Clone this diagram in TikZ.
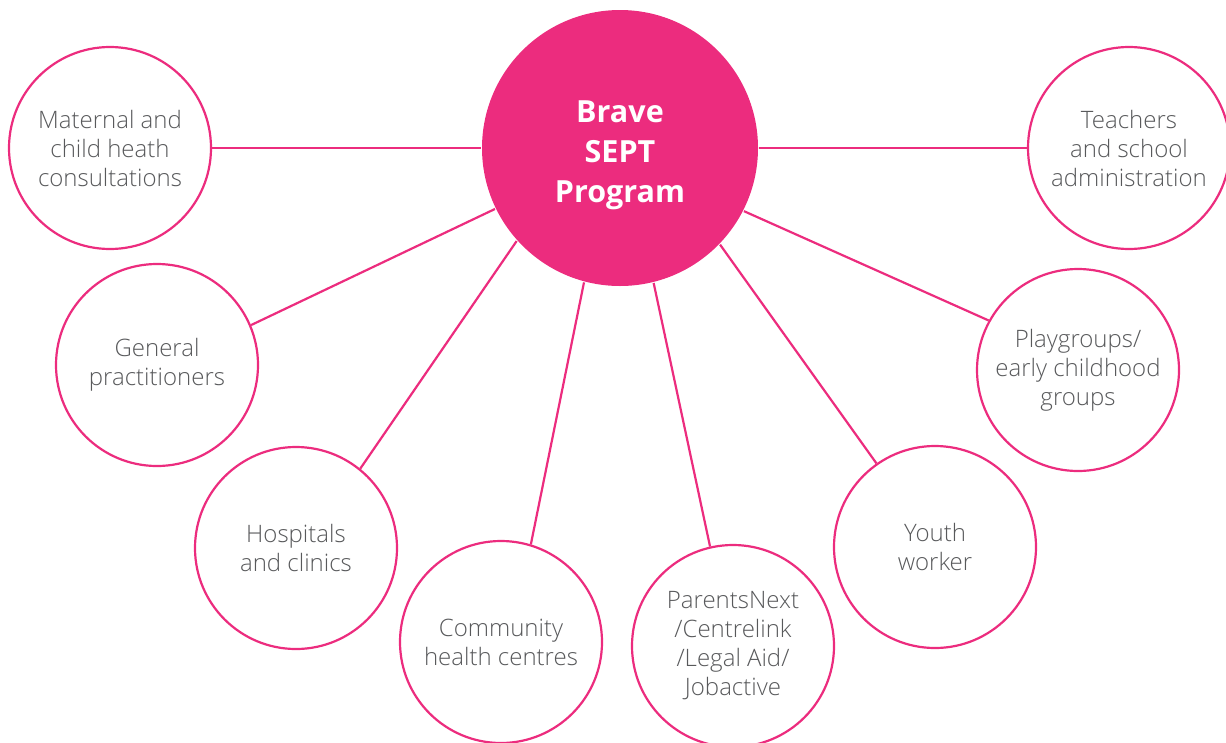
\documentclass[tikz,border=0pt]{standalone}
\usepackage{fontspec}
\setmainfont{Open Sans}[UprightFont=* Light, BoldFont=* Bold]
\usepackage{tikz}
\usetikzlibrary{positioning}
\definecolor{bravepink}{HTML}{EC2C7E}
\definecolor{labelgrey}{HTML}{58595B}

\begin{document}
\begin{tikzpicture}[x=1pt, y=-1pt, line width=2.2pt,
  main node/.style={circle,draw=bravepink,fill=white,minimum size=202pt,inner sep=0pt,align=center,
    text=labelgrey,font=\fontsize{24}{29}\selectfont},
  hub node/.style={circle,fill=bravepink,minimum size=276pt,inner sep=0pt},
  hub text/.style={align=center,text=white,yshift=-7pt,font=\fontsize{30.5}{40}\selectfont\bfseries}]
\useasboundingbox (0,0) rectangle (1226,742);
\begin{scope}
\node[hub node,label={[hub text]center:Brave\\SEPT\\Program}] (hub) at (620,148) {};
\node[main node] (mch) at (110,148) {Maternal and\\child heath\\consultations};
\node[main node] (gp) at (157,365) {General\\practitioners};
\node[main node] (hosp) at (296,548) {Hospitals\\and clinics};
\node[main node] (chc) at (501,642) {Community\\health centres};
\node[main node] (pnx) at (733,646) {ParentsNext\\/Centrelink\\/Legal Aid/\\Jobactive};
\node[main node] (youth) at (935,547) {Youth\\worker};
\node[main node] (play) at (1078,370) {Playgroups/\\early childhood\\groups};
\node[main node] (teach) at (1129,148) {Teachers\\and school\\administration};
\end{scope}
\begin{scope}[draw=bravepink]
\draw (hub.180) edge (mch.0);
\draw (hub.206.7) edge (gp.23.9);
\draw (hub.222.4) edge (hosp.51.9);
\draw (hub.255.9) edge (chc.73.4);
\draw (hub.284.5) edge (pnx.103.6);
\draw (hub.316.8) edge (youth.125.9);
\draw (hub.333.4) edge (play.151.7);
\draw (hub.0) edge (teach.180);
\end{scope}
\end{tikzpicture}
\end{document}
